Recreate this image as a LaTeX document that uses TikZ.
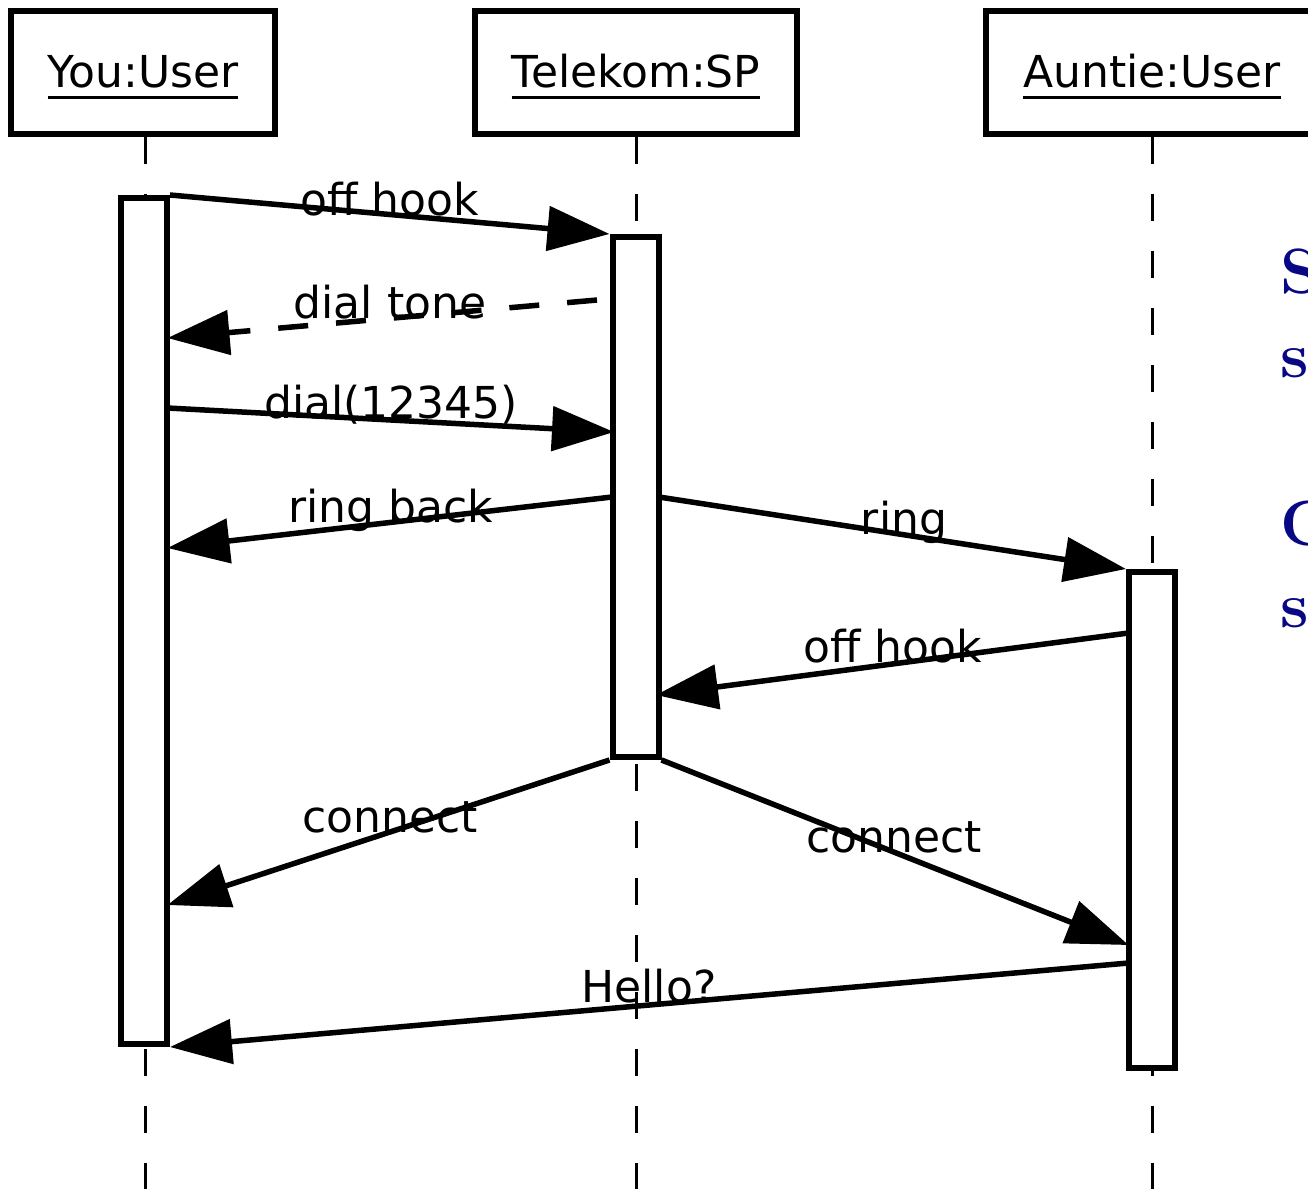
\documentclass[tikz,border=0pt]{standalone}
\usepackage{fontspec}
\usepackage{tikz}
\usetikzlibrary{arrows.meta, positioning}
\usepackage{xcolor}

\newfontfamily\diafont{DejaVu Sans}
\definecolor{sidenavy}{RGB}{8,8,132}
\newcommand\objname[1]{\sbox0{#1}\rlap{\usebox0}\rule[-11.5pt]{\wd0}{3.5pt}}

\begin{document}
\begin{tikzpicture}[
    x=1pt, y=-1pt,
    objbox/.style={rectangle, draw, line width=6.5pt, minimum height=123pt, inner sep=0pt,
        text height=42pt, text depth=11.5pt, font=\diafont\fontsize{44}{53}\selectfont},
    actbar/.style={rectangle, draw, fill=white, line width=6pt, minimum width=46pt, inner sep=0pt},
    lifeline/.style={line width=3pt, dash pattern=on 27pt off 30pt},
    msg/.style={-{Triangle[length=62pt, width=44pt]}, line width=5.5pt},
    reply/.style={msg, dash pattern=on 30pt off 28pt},
    msglabel/.style={anchor=base, inner sep=0pt, font=\diafont\fontsize{44}{53}\selectfont},
    sidetext/.style={anchor=base west, inner sep=0pt, text=sidenavy, font=\fontsize{64}{77}\selectfont\bfseries}
]
    \useasboundingbox (0,0) rectangle (1308,1188);
    \clip (0,0) rectangle (1308,1188);

    % Objects
    \node[objbox, minimum width=264pt] (you) at (143, 72.5) {\objname{You:User}};
    \node[objbox, minimum width=322pt] (tel) at (636, 72.5) {\objname{Telekom:SP}};
    \node[objbox, minimum width=332pt] (aunt) at (1152, 72.5) {\objname{Auntie:User}};

    % Lifelines
    \coordinate (youend) at (145, 1190);
    \coordinate (telend) at (636, 1190);
    \coordinate (auntend) at (1152, 1190);
    \draw[lifeline] (you.south -| youend) -- (youend);
    \draw[lifeline] (tel.south) -- (telend);
    \draw[lifeline] (aunt.south) -- (auntend);

    % Activation bars
    \node[actbar, minimum height=846pt] (youbar) at (144, 621) {};
    \node[actbar, minimum height=520pt] (telbar) at (635.5, 497) {};
    \node[actbar, minimum height=496pt] (auntbar) at (1152, 820) {};

    % Message ends
    \coordinate (tonestart) at (597, 300);
    \coordinate (toneend) at (167.5, 338);
    \coordinate (dialstart) at (167.5, 408);
    \coordinate (dialend) at (614, 432);
    \coordinate (backstart) at (612, 497);
    \coordinate (backend) at (167.5, 548);
    \coordinate (ringstart) at (659, 497);
    \coordinate (hookstart) at (1128.5, 633);
    \coordinate (hookend) at (656, 695);
    \coordinate (youconn) at (167.5, 905);
    \coordinate (auntconn) at (1128.5, 945);
    \coordinate (hellostart) at (1128.5, 963);

    % Messages
    \draw[msg] (youbar.north east) -- (telbar.north west);
    \draw[reply] (tonestart) -- (toneend);
    \draw[msg] (dialstart) -- (dialend);
    \draw[msg] (backstart) -- (backend);
    \draw[msg] (ringstart) -- (auntbar.north west);
    \draw[msg] (hookstart) -- (hookend);
    \draw[msg] (telbar.south west) -- (youconn);
    \draw[msg] (telbar.south east) -- (auntconn);
    \draw[msg] (hellostart) -- (youbar.south east);

    % Labels
    \node[msglabel] (l1) at (390, 215) {off hook};
    \node[msglabel] (l2) at (390, 318) {dial tone};
    \node[msglabel] (l3) at (391, 418) {dial(12345)};
    \node[msglabel] (l4) at (391, 522) {ring back};
    \node[msglabel] (l5) at (904, 534) {ring};
    \node[msglabel] (l6) at (893, 662) {off hook};
    \node[msglabel] (l7) at (390, 832) {connect};
    \node[msglabel] (l8) at (894, 852) {connect};
    \node[msglabel] (l9) at (649, 1002) {Hello?};

    % Cut-off text on the right
    \node[sidetext] (side1) at (1280, 293) {S};
    \node[sidetext] (side2) at (1280, 377) {s};
    \node[sidetext] (side3) at (1280, 545) {C};
    \node[sidetext] (side4) at (1280, 627) {s};
\end{tikzpicture}
\end{document}
